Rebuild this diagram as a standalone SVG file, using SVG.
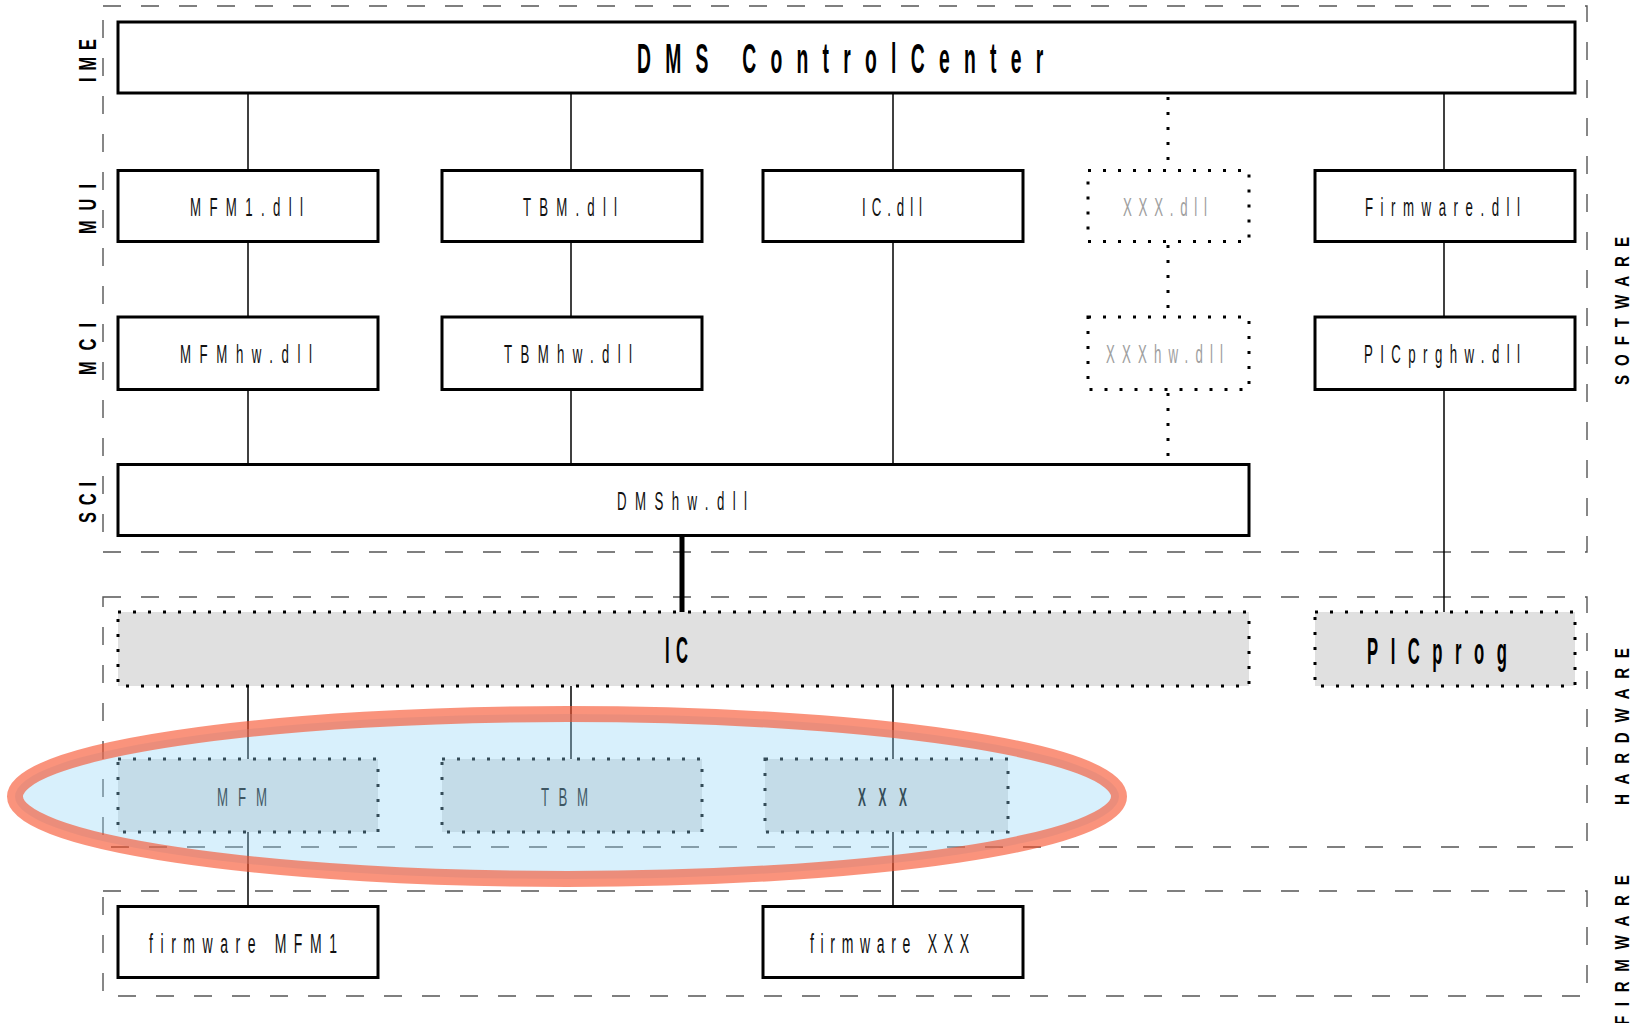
<svg xmlns="http://www.w3.org/2000/svg" width="1643" height="1023" viewBox="0 0 1643 1023">
<style>
.frame{fill:none;stroke:#555;stroke-width:1.4;stroke-dasharray:18 20}
.box{fill:#fff;stroke:#000;stroke-width:3}
.dbox{fill:#fff;stroke:#000;stroke-width:3;stroke-dasharray:3 12}
.hbox{fill:#e0e0e0;stroke:#000;stroke-width:3;stroke-dasharray:3 12}
.ln{stroke:#000;stroke-width:1.5;fill:none}
.dl{stroke:#000;stroke-width:3;stroke-dasharray:3 12;fill:none}
.t{font-family:"Liberation Sans",Arial,sans-serif;font-size:26.5px;fill:#111}
.tf{font-family:"Liberation Sans",Arial,sans-serif;font-size:28px;fill:#111}
.tg{font-family:"Liberation Sans",Arial,sans-serif;font-size:26.5px;fill:#a0a0a0}
.tb{font-family:"Liberation Sans",Arial,sans-serif;font-weight:bold;fill:#000}
.lab{font-family:"Liberation Sans",Arial,sans-serif;font-weight:bold;fill:#000}
</style>
<rect width="1643" height="1023" fill="#fff"/>
<g id="frames">
<rect class="frame" x="103" y="6" width="1484" height="546"/>
<rect class="frame" x="103" y="597" width="1484" height="250"/>
<rect class="frame" x="103" y="891" width="1484" height="105"/>
</g>
<g id="layer-labels">
<text class="lab" font-size="23.5" transform="translate(96,82) rotate(-90) scale(0.7,1)" textLength="61.4" lengthAdjust="spacing">IME</text>
<text class="lab" font-size="23.5" transform="translate(96,234) rotate(-90) scale(0.7,1)" textLength="71.4" lengthAdjust="spacing">MUI</text>
<text class="lab" font-size="23.5" transform="translate(96,375) rotate(-90) scale(0.7,1)" textLength="74.3" lengthAdjust="spacing">MCI</text>
<text class="lab" font-size="23.5" transform="translate(96,523) rotate(-90) scale(0.7,1)" textLength="58.6" lengthAdjust="spacing">SCI</text>
<text class="lab" font-size="21" transform="translate(1629,385) rotate(-90) scale(0.72,1)" textLength="205.6" lengthAdjust="spacing">SOFTWARE</text>
<text class="lab" font-size="21" transform="translate(1629,805) rotate(-90) scale(0.72,1)" textLength="218" lengthAdjust="spacing">HARDWARE</text>
<text class="lab" font-size="21" transform="translate(1629,1025) rotate(-90) scale(0.72,1)" textLength="208" lengthAdjust="spacing">FIRMWARE</text>
</g>
<g id="connectors">
<line class="ln" x1="248" y1="93" x2="248" y2="170"/>
<line class="ln" x1="571" y1="93" x2="571" y2="170"/>
<line class="ln" x1="893" y1="93" x2="893" y2="170"/>
<line class="ln" x1="1444" y1="93" x2="1444" y2="170"/>
<line class="ln" x1="248" y1="242" x2="248" y2="316"/>
<line class="ln" x1="571" y1="242" x2="571" y2="316"/>
<line class="ln" x1="893" y1="242" x2="893" y2="464"/>
<line class="ln" x1="1444" y1="242" x2="1444" y2="316"/>
<line class="ln" x1="248" y1="390" x2="248" y2="464"/>
<line class="ln" x1="571" y1="390" x2="571" y2="464"/>
<line class="ln" x1="1444" y1="390" x2="1444" y2="612"/>
<line class="dl" x1="1168" y1="97" x2="1168" y2="170"/>
<line class="dl" x1="1168" y1="245" x2="1168" y2="316"/>
<line class="dl" x1="1168" y1="393" x2="1168" y2="464"/>
<line stroke="#000" stroke-width="5" x1="682" y1="536" x2="682" y2="612"/>
<line class="ln" x1="248" y1="686" x2="248" y2="759"/>
<line class="ln" x1="571" y1="686" x2="571" y2="759"/>
<line class="ln" x1="893" y1="686" x2="893" y2="759"/>
<line class="ln" x1="248" y1="832" x2="248" y2="906"/>
<line class="ln" x1="893" y1="832" x2="893" y2="906"/>
</g>
<g id="dms-control-center">
<rect class="box" x="118" y="22" width="1457" height="71"/>
<text class="tb" font-size="42" transform="translate(637,72.7) scale(0.46,1)" textLength="883" lengthAdjust="spacing">DMS ControlCenter</text>
</g>
<g id="mfm1-dll">
<rect class="box" x="118" y="170.5" width="260" height="71"/>
<text class="t" transform="translate(190,216) scale(0.5,1)" textLength="226" lengthAdjust="spacing">MFM1.dll</text>
</g>
<g id="tbm-dll">
<rect class="box" x="442" y="170.5" width="260" height="71"/>
<text class="t" transform="translate(523,216) scale(0.5,1)" textLength="188" lengthAdjust="spacing">TBM.dll</text>
</g>
<g id="ic-dll">
<rect class="box" x="763" y="170.5" width="260" height="71"/>
<text class="t" transform="translate(862,216) scale(0.5,1)" textLength="120" lengthAdjust="spacing">IC.dll</text>
</g>
<g id="xxx-dll">
<rect class="dbox" x="1088" y="170.5" width="161" height="71"/>
<text class="tg" transform="translate(1123,216) scale(0.5,1)" textLength="168" lengthAdjust="spacing">XXX.dll</text>
</g>
<g id="firmware-dll">
<rect class="box" x="1315" y="170.5" width="260" height="71"/>
<text class="t" transform="translate(1365,216) scale(0.5,1)" textLength="310" lengthAdjust="spacing">Firmware.dll</text>
</g>
<g id="mfmhw-dll">
<rect class="box" x="118" y="317" width="260" height="72.5"/>
<text class="t" transform="translate(180,363) scale(0.5,1)" textLength="264" lengthAdjust="spacing">MFMhw.dll</text>
</g>
<g id="tbmhw-dll">
<rect class="box" x="442" y="317" width="260" height="72.5"/>
<text class="t" transform="translate(504,363) scale(0.5,1)" textLength="256" lengthAdjust="spacing">TBMhw.dll</text>
</g>
<g id="xxxhw-dll">
<rect class="dbox" x="1088" y="317" width="161" height="72.5"/>
<text class="tg" transform="translate(1106,363) scale(0.5,1)" textLength="234" lengthAdjust="spacing">XXXhw.dll</text>
</g>
<g id="picprghw-dll">
<rect class="box" x="1315" y="317" width="260" height="72.5"/>
<text class="t" transform="translate(1364,363) scale(0.5,1)" textLength="312" lengthAdjust="spacing">PICprghw.dll</text>
</g>
<g id="dmshw-dll">
<rect class="box" x="118" y="464.5" width="1131" height="71"/>
<text class="t" transform="translate(617,510) scale(0.5,1)" textLength="260" lengthAdjust="spacing">DMShw.dll</text>
</g>
<g id="ic">
<rect class="hbox" x="118" y="612" width="1131" height="74"/>
<text class="tb" font-size="37" transform="translate(665,663) scale(0.45,1)" textLength="51" lengthAdjust="spacing">IC</text>
</g>
<g id="picprog">
<rect class="hbox" x="1315" y="612" width="260" height="74"/>
<text class="tb" font-size="37" transform="translate(1367,664) scale(0.45,1)" textLength="311" lengthAdjust="spacing">PICprog</text>
</g>
<g id="mfm">
<rect class="hbox" x="118" y="759" width="260" height="73"/>
<text class="t" transform="translate(217,806) scale(0.5,1)" textLength="100" lengthAdjust="spacing">MFM</text>
</g>
<g id="tbm">
<rect class="hbox" x="442" y="759" width="260" height="73"/>
<text class="t" transform="translate(541,806) scale(0.5,1)" textLength="94" lengthAdjust="spacing">TBM</text>
</g>
<g id="xxx">
<rect class="hbox" x="765" y="759" width="243" height="73"/>
<text class="tb" font-size="26.5" transform="translate(858,806) scale(0.45,1)" textLength="109" lengthAdjust="spacing">XXX</text>
</g>
<g id="firmware-mfm1">
<rect class="box" x="118" y="906.5" width="260" height="71"/>
<text class="tf" transform="translate(149,953) scale(0.5,1)" textLength="376" lengthAdjust="spacing">firmware MFM1</text>
</g>
<g id="firmware-xxx">
<rect class="box" x="763" y="906.5" width="260" height="71"/>
<text class="tf" transform="translate(810,953) scale(0.5,1)" textLength="318" lengthAdjust="spacing">firmware XXX</text>
</g>
<g id="highlight">
<ellipse cx="567" cy="796.5" rx="552" ry="82.5" fill="rgb(145,213,247)" fill-opacity="0.355" stroke="rgb(247,80,43)" stroke-opacity="0.62" stroke-width="16"/>
</g>
</svg>
